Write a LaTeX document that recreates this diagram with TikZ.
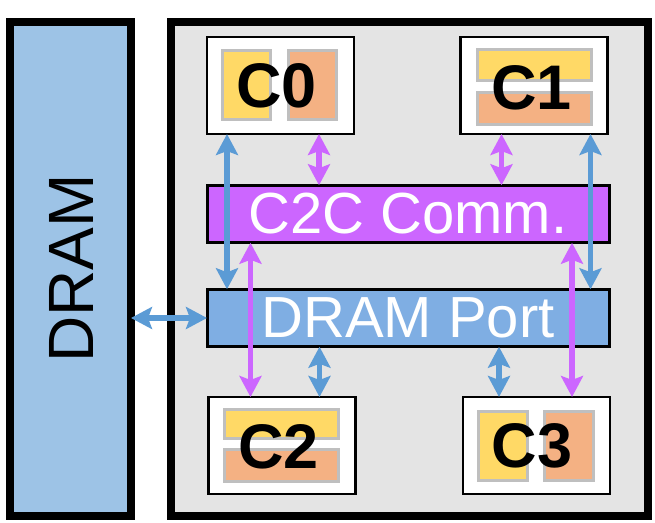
\documentclass[tikz,border=0pt]{standalone}
\usepackage{fontspec}
\setmainfont{Liberation Sans}
\usetikzlibrary{arrows.meta}
\definecolor{dramfill}{HTML}{9DC3E6}
\definecolor{portfill}{HTML}{7FAEE3}
\definecolor{arrblue}{HTML}{5B9BD5}
\definecolor{purp}{HTML}{CC66FF}
\definecolor{chipbg}{HTML}{E4E4E4}
\definecolor{yel}{HTML}{FFD966}
\definecolor{ora}{HTML}{F4B183}
\definecolor{grayb}{HTML}{BFBFBF}
\tikzset{
  bigbox/.style={draw=black, line width=8pt, inner sep=0pt, outer sep=0pt},
  corebox/.style={draw=black, fill=white, line width=2.5pt, minimum width=147pt, minimum height=97pt, inner sep=0pt, outer sep=0pt},
  barbox/.style={draw=black, line width=3pt, minimum width=402pt, minimum height=57.5pt, inner sep=0pt, outer sep=0pt, text=white, font=\fontsize{58}{60}\selectfont},
  yelbox/.style={draw=grayb, fill=yel, line width=3pt, inner sep=0pt, outer sep=0pt},
  orabox/.style={draw=grayb, fill=ora, line width=3pt, inner sep=0pt, outer sep=0pt},
  corelabel/.style={font=\fontsize{63}{63}\bfseries\selectfont, inner sep=0pt},
  barrow/.style={draw=arrblue, line width=5.5pt, {Stealth[length=21pt,width=22pt,inset=4pt]}-{Stealth[length=21pt,width=22pt,inset=4pt]}},
  parrow/.style={draw=purp, line width=5.5pt, {Stealth[length=21pt,width=22pt,inset=4pt]}-{Stealth[length=21pt,width=22pt,inset=4pt]}},
}
\begin{document}
\begin{tikzpicture}[x=1pt,y=-1pt]
\useasboundingbox (0,0) rectangle (655,522);
% DRAM
\node[bigbox, fill=dramfill, minimum width=121pt, minimum height=494.5pt] (dram) at (70.5,268.75) {};
\node[rotate=90, font=\fontsize{64}{64}\selectfont, inner sep=0pt] (dramtxt) at (71,268.5) {DRAM};
% chip
\node[bigbox, fill=chipbg, minimum width=476.5pt, minimum height=494pt] (chip) at (409.25,269) {};
% bars
\node[barbox, fill=purp] (c2c) at (408,214) {C2C Comm.};
\node[barbox, fill=portfill] (port) at (408,318) {DRAM Port};
% cores
\node[corebox] (C0) at (280.5,85.5) {};
\node[yelbox, minimum width=48pt, minimum height=69pt] (C0y) at (246.5,85) {};
\node[orabox, minimum width=48pt, minimum height=69pt] (C0o) at (312.7,85) {};
\node[corelabel] (C0t) at (276.7,86) {C0};

\node[corebox] (C1) at (534,85.5) {};
\node[yelbox, minimum width=114pt, minimum height=31pt] (C1y) at (534.5,65) {};
\node[orabox, minimum width=114pt, minimum height=32pt] (C1o) at (534.5,108.5) {};
\node[corelabel] (C1t) at (531.5,87.6) {C1};

\node[corebox] (C2) at (282,445.5) {};
\node[yelbox, minimum width=114pt, minimum height=29pt] (C2y) at (281.7,424) {};
\node[orabox, minimum width=114pt, minimum height=32pt] (C2o) at (281.7,465.5) {};
\node[corelabel] (C2t) at (278.7,446.7) {C2};

\node[corebox] (C3) at (536.5,445.5) {};
\node[yelbox, minimum width=49pt, minimum height=69pt] (C3y) at (503,446) {};
\node[orabox, minimum width=49pt, minimum height=69pt] (C3o) at (568.5,446) {};
\node[corelabel] (C3t) at (532,446) {C3};

% arrows
\draw[barrow] (dram.east |- port.west) -- (port.west);
\draw[barrow] ([xshift=20pt]C0.south west) -- ([xshift=20pt]C0.south west |- port.north);
\draw[barrow] ([xshift=-17pt]C1.south east) -- ([xshift=-17pt]C1.south east |- port.north);
\draw[parrow] ([xshift=112pt]C0.south west) -- ([xshift=112pt]C0.south west |- c2c.north);
\draw[parrow] ([xshift=41pt]C1.south west) -- ([xshift=41pt]C1.south west |- c2c.north);
\draw[parrow] ([xshift=42pt]C2.north west |- c2c.south) -- ([xshift=42pt]C2.north west);
\draw[parrow] ([xshift=-38pt]C3.north east |- c2c.south) -- ([xshift=-38pt]C3.north east);
\draw[barrow] ([xshift=111pt]C2.north west |- port.south) -- ([xshift=111pt]C2.north west);
\draw[barrow] ([xshift=36pt]C3.north west |- port.south) -- ([xshift=36pt]C3.north west);
\end{tikzpicture}
\end{document}
